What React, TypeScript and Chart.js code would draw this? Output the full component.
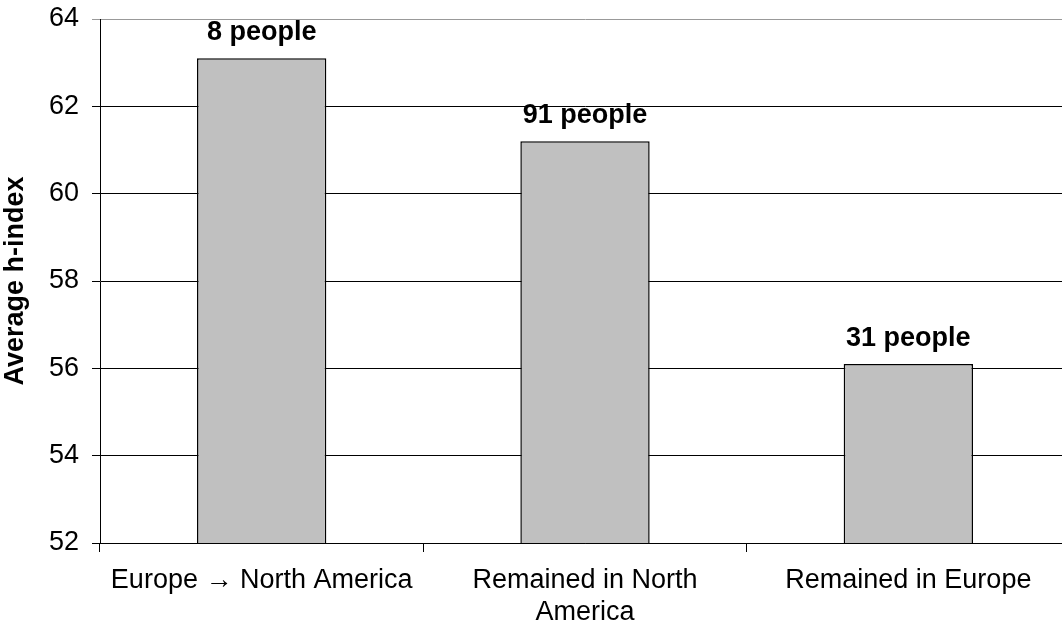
import React, { useEffect, useRef } from "react";
import { Chart, registerables } from "chart.js";

Chart.register(...registerables);

const categories: (string | string[])[] = [
  "Europe \u2192 North America",
  ["Remained in North", "America"],
  "Remained in Europe",
];
const averageHIndex: number[] = [63.1, 61.2, 56.1];
const peopleLabels: string[] = ["8 people", "91 people", "31 people"];
const yTitle = "Average h-index";
const yMin = 52;
const yMax = 64;
const yStep = 2;

const FONT = "'Liberation Sans', Arial, sans-serif";

const barLabelPlugin = {
  id: "barLabels",
  afterDatasetsDraw(chart: any) {
    const ctx = chart.ctx;
    const meta = chart.getDatasetMeta(0);
    ctx.save();
    ctx.font = `bold 27px ${FONT}`;
    ctx.fillStyle = "#000";
    ctx.textAlign = "center";
    ctx.textBaseline = "alphabetic";
    meta.data.forEach((bar: any, i: number) => {
      ctx.fillText(peopleLabels[i], bar.x, bar.y - 18);
    });
    ctx.restore();
  },
};

export default function App() {
  const canvasRef = useRef<HTMLCanvasElement | null>(null);

  useEffect(() => {
    const canvas = canvasRef.current;
    if (!canvas) return;
    const chart = new Chart(canvas, {
      type: "bar",
      data: {
        labels: categories,
        datasets: [
          {
            data: averageHIndex,
            backgroundColor: "#c0c0c0",
            borderColor: "#000",
            borderWidth: 1.5,
            borderSkipped: false,
            barPercentage: 0.4,
            categoryPercentage: 1,
          },
        ],
      },
      options: {
        responsive: false,
        animation: false,
        devicePixelRatio: 1,
        layout: { padding: { top: 19, right: 10, left: 0, bottom: 0 } },
        plugins: {
          legend: { display: false },
          tooltip: { enabled: false },
        },
        scales: {
          x: {
            offset: true,
            grid: {
              offset: true,
              drawOnChartArea: false,
              drawTicks: true,
              tickLength: 9,
              color: "#000",
            },
            border: { color: "#000", width: 1 },
            ticks: {
              color: "#000",
              font: { family: FONT, size: 27, lineHeight: 1.2 },
              padding: 12,
              maxRotation: 0,
              autoSkip: false,
            },
            afterFit(scale: any) {
              scale.height = 87;
              scale.paddingLeft = 0;
              scale.paddingRight = 0;
            },
          },
          y: {
            min: yMin,
            max: yMax,
            grid: {
              color: (c: any) => (c.tick && c.tick.value === yMax ? "#999" : "#000"),
              tickLength: 8,
              lineWidth: 1,
            },
            border: { color: "#000", width: 1 },
            ticks: {
              stepSize: yStep,
              color: "#000",
              font: { family: FONT, size: 27 },
              padding: 13,
            },
            title: {
              display: true,
              text: yTitle,
              color: "#000",
              font: { family: FONT, size: 27, weight: "bold", lineHeight: 1 },
              padding: { top: 2, bottom: 0 },
            },
            afterFit(scale: any) {
              scale.width = 100;
              scale.paddingTop = 0;
              scale.paddingBottom = 0;
            },
          },
        },
      },
      plugins: [barLabelPlugin],
    });
    return () => chart.destroy();
  }, []);

  return (
    <div
      style={{
        position: "fixed",
        left: 0,
        top: 0,
        width: 1062,
        height: 630,
        overflow: "hidden",
        background: "#fff",
      }}
    >
      <canvas
        ref={canvasRef}
        width={1080}
        height={630}
        style={{ width: 1080, height: 630, display: "block" }}
      />
    </div>
  );
}
